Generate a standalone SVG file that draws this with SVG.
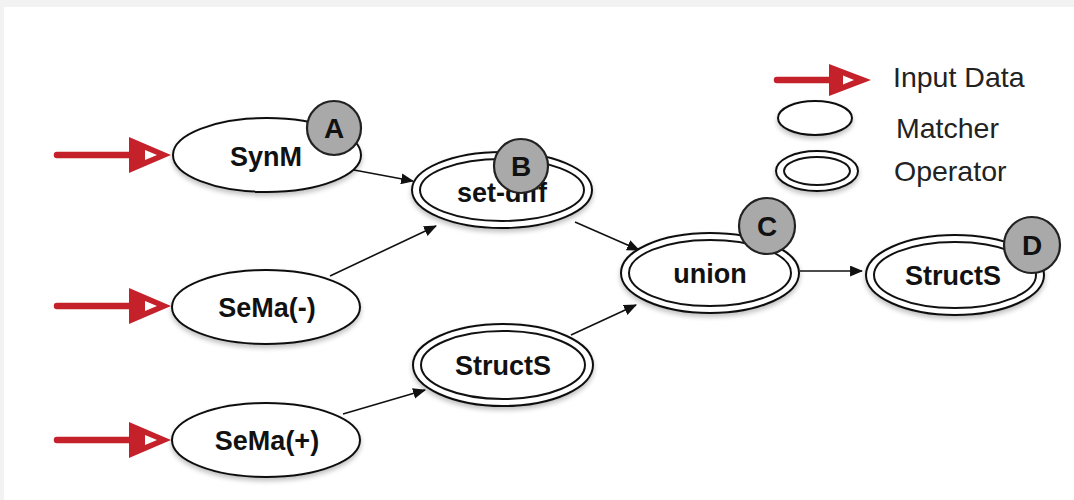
<svg xmlns="http://www.w3.org/2000/svg" width="1074" height="500" viewBox="0 0 1074 500">
  <style>
    .node { fill: #ffffff; stroke: #111111; stroke-width: 2; }
    .inner { fill: none; stroke: #111111; stroke-width: 2; }
    .label { font-family: "Liberation Sans", Arial, sans-serif; font-weight: bold; font-size: 27px; fill: #111111; text-anchor: middle; }
    .badge { fill: #a9a9a9; stroke: #222222; stroke-width: 2.2; }
    .badge-text { font-family: "Liberation Sans", Arial, sans-serif; font-weight: bold; font-size: 28px; fill: #111111; text-anchor: middle; }
    .legend-text { font-family: "Liberation Sans", Arial, sans-serif; font-size: 28.5px; fill: #222222; }
    .edge { stroke: #111111; stroke-width: 1.6; fill: none; marker-end: url(#arrow); }
    .input { stroke: #c4212b; stroke-width: 6.5; stroke-linecap: round; fill: none; }
    .input-head { fill: #c4212b; }
  </style>
  <defs>
    <marker id="arrow" viewBox="0 0 12 10" refX="11" refY="5" markerWidth="13" markerHeight="11" markerUnits="userSpaceOnUse" orient="auto">
      <path d="M0,0 L12,5 L0,10 z" fill="#111111"/>
    </marker>
    <filter id="shadow" x="-20%" y="-20%" width="140%" height="150%">
      <feGaussianBlur in="SourceAlpha" stdDeviation="2.5"/>
      <feOffset dx="0" dy="3" result="b"/>
      <feComponentTransfer><feFuncA type="linear" slope="0.25"/></feComponentTransfer>
      <feMerge><feMergeNode/><feMergeNode in="SourceGraphic"/></feMerge>
    </filter>
    <!-- red input arrow: thick shaft with a hollow-notched head -->
    <g id="input-arrow">
      <line class="input" x1="0" y1="0" x2="76" y2="0"/>
      <path class="input-head" d="M72,-18 L114,0 L72,18 z M88,-5 L88,5 L100,0 z" fill-rule="evenodd"/>
    </g>
    <g id="legend-arrow">
      <line class="input" x1="0" y1="0" x2="56" y2="0"/>
      <path class="input-head" d="M52,-16 L94,0 L52,16 z M66,-4.5 L66,4.5 L77,0 z" fill-rule="evenodd"/>
    </g>
  </defs>

  <!-- page background and panel -->
  <rect x="0" y="0" width="1074" height="500" fill="#f2f2f2"/>
  <rect x="4" y="7" width="1070" height="493" fill="#ffffff"/>

  <!-- input data arrows -->
  <g id="inputs">
    <use href="#input-arrow" x="57" y="155"/>
    <use href="#input-arrow" x="57" y="306"/>
    <use href="#input-arrow" x="57" y="440"/>
  </g>

  <!-- connectors -->
  <g id="connectors">
    <line class="edge" x1="354" y1="170" x2="413" y2="181"/>
    <line class="edge" x1="330" y1="276" x2="436" y2="226"/>
    <line class="edge" x1="575" y1="222" x2="639" y2="250"/>
    <line class="edge" x1="571" y1="335" x2="636" y2="305"/>
    <line class="edge" x1="343" y1="414" x2="425" y2="390"/>
    <line class="edge" x1="800" y1="271" x2="862" y2="271"/>
  </g>

  <!-- matchers -->
  <g id="synm">
    <ellipse class="node" cx="267" cy="155" rx="94" ry="37" filter="url(#shadow)"/>
    <text class="label" x="266" y="166">SynM</text>
    <circle class="badge" cx="334" cy="128" r="27"/>
    <text class="badge-text" x="334" y="138">A</text>
  </g>
  <g id="sema-minus">
    <ellipse class="node" cx="266" cy="307" rx="94" ry="37" filter="url(#shadow)"/>
    <text class="label" x="267" y="317">SeMa(-)</text>
  </g>
  <g id="sema-plus">
    <ellipse class="node" cx="266" cy="440" rx="94" ry="37" filter="url(#shadow)"/>
    <text class="label" x="267" y="450">SeMa(+)</text>
  </g>

  <!-- operators -->
  <g id="set-diff">
    <ellipse class="node" cx="502" cy="190" rx="90" ry="38" filter="url(#shadow)"/>
    <ellipse class="inner" cx="502" cy="190" rx="82" ry="31"/>
    <text class="label" x="502" y="202">set-diff</text>
    <circle class="badge" cx="521" cy="166" r="27"/>
    <text class="badge-text" x="521" y="176">B</text>
  </g>
  <g id="structs-mid">
    <ellipse class="node" cx="503" cy="365" rx="90" ry="41" filter="url(#shadow)"/>
    <ellipse class="inner" cx="503" cy="365" rx="82" ry="34"/>
    <text class="label" x="503" y="375">StructS</text>
  </g>
  <g id="union">
    <ellipse class="node" cx="710" cy="273" rx="89" ry="40" filter="url(#shadow)"/>
    <ellipse class="inner" cx="710" cy="273" rx="81" ry="33"/>
    <text class="label" x="710" y="283">union</text>
    <circle class="badge" cx="767" cy="226" r="28"/>
    <text class="badge-text" x="767" y="236">C</text>
  </g>
  <g id="structs-out">
    <ellipse class="node" cx="955" cy="275" rx="89" ry="40" filter="url(#shadow)"/>
    <ellipse class="inner" cx="955" cy="275" rx="81" ry="33"/>
    <text class="label" x="953" y="285">StructS</text>
    <circle class="badge" cx="1032" cy="245" r="28"/>
    <text class="badge-text" x="1032" y="255">D</text>
  </g>

  <!-- legend -->
  <g id="legend">
    <use href="#legend-arrow" x="777" y="80"/>
    <text class="legend-text" x="893" y="87">Input Data</text>
    <ellipse class="node" cx="815" cy="118" rx="37" ry="17" filter="url(#shadow)"/>
    <text class="legend-text" x="896" y="138">Matcher</text>
    <ellipse class="node" cx="817" cy="171" rx="41" ry="20" filter="url(#shadow)"/>
    <ellipse class="inner" cx="817" cy="171" rx="33" ry="14"/>
    <text class="legend-text" x="894" y="181">Operator</text>
  </g>
</svg>
